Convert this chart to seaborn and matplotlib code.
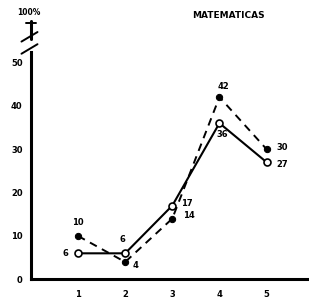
import matplotlib
matplotlib.use("Agg")
import matplotlib.pyplot as plt
import seaborn as sns
import pandas as pd

# values
grades = [1, 2, 3, 4, 5]
solid_vals = [6, 6, 17, 36, 27]     # open circles, solid line
dashed_vals = [10, 4, 14, 42, 30]   # filled circles, dashed line
y_ticks = [0, 10, 20, 30, 40, 50]
title = "MATEMATICAS"

df = pd.DataFrame({"grado": grades, "solid": solid_vals, "dashed": dashed_vals})

sns.set_style("white")
plt.rcParams["font.family"] = ["DejaVu Sans"]
plt.rcParams["text.color"] = "black"
plt.rcParams["xtick.color"] = "black"
plt.rcParams["ytick.color"] = "black"
plt.rcParams["axes.edgecolor"] = "black"

fig = plt.figure(figsize=(3.09, 3.02), dpi=100)
ax = fig.add_axes([0.1, 0.075, 0.9, 0.862])

sns.lineplot(data=df, x="grado", y="dashed", ax=ax, color="black", lw=1.4,
             linestyle=(0, (4, 3)), marker="o", markersize=4.5,
             markerfacecolor="black", markeredgecolor="black")
sns.lineplot(data=df, x="grado", y="solid", ax=ax, color="black", lw=1.5,
             marker="o", markersize=5, markerfacecolor="white",
             markeredgecolor="black", markeredgewidth=1.2)

ax.set_xlim(0, 5.9)
ax.set_ylim(0, 60)
ax.set_xticks(grades)
ax.set_xticklabels([str(g) for g in grades], fontsize=6, fontweight="bold")
ax.set_yticks(y_ticks)
ax.set_yticklabels([str(t) for t in y_ticks], fontsize=6, fontweight="bold")
ax.tick_params(axis="x", direction="inout", length=6, width=1.2, pad=5)
ax.tick_params(axis="y", direction="in", length=4, width=1.2, pad=6)
ax.set_xlabel("")
ax.set_ylabel("")

for s in ["top", "right"]:
    ax.spines[s].set_visible(False)
ax.spines["bottom"].set_linewidth(2.2)
ax.spines["left"].set_linewidth(2.2)
ax.spines["left"].set_bounds(0, 52.5)

# axis break and the 100% stub
ax.plot([0, 0], [55.5, 59.5], color="black", lw=2.2, clip_on=False)
ax.plot([-0.1, 0.1], [59.0, 59.0], color="black", lw=1.4, clip_on=False)
ax.plot([-0.2, 0.14], [52.0, 54.2], color="black", lw=1.4, clip_on=False)
ax.plot([-0.2, 0.14], [54.8, 57.0], color="black", lw=1.4, clip_on=False)
fig.text(0.055, 0.958, "100%", fontsize=5.5, fontweight="bold", ha="left", va="center")

fig.text(0.74, 0.948, title, fontsize=6.5, fontweight="bold", ha="center", va="center")

# point labels
lab = dict(fontsize=6, fontweight="bold", color="black")
ax.text(0.8, 6, str(solid_vals[0]), ha="right", va="center", **lab)
ax.text(1.0, dashed_vals[0] + 2.0, str(dashed_vals[0]), ha="center", va="bottom", **lab)
ax.text(1.95, solid_vals[1] + 2.2, str(solid_vals[1]), ha="center", va="bottom", **lab)
ax.text(2.15, dashed_vals[1] - 0.8, str(dashed_vals[1]), ha="left", va="center", **lab)
ax.text(3.18, 17.5, str(solid_vals[2]), ha="left", va="center", **lab)
ax.text(3.22, 14.8, str(dashed_vals[2]), ha="left", va="center", **lab)
ax.text(4.08, dashed_vals[3] + 1.5, str(dashed_vals[3]), ha="center", va="bottom", **lab)
ax.text(4.05, 34.5, str(solid_vals[3]), ha="center", va="top", **lab)
ax.text(5.2, dashed_vals[4] + 0.5, str(dashed_vals[4]), ha="left", va="center", **lab)
ax.text(5.2, solid_vals[4] - 0.5, str(solid_vals[4]), ha="left", va="center", **lab)

fig.savefig("out.png", dpi=100)
